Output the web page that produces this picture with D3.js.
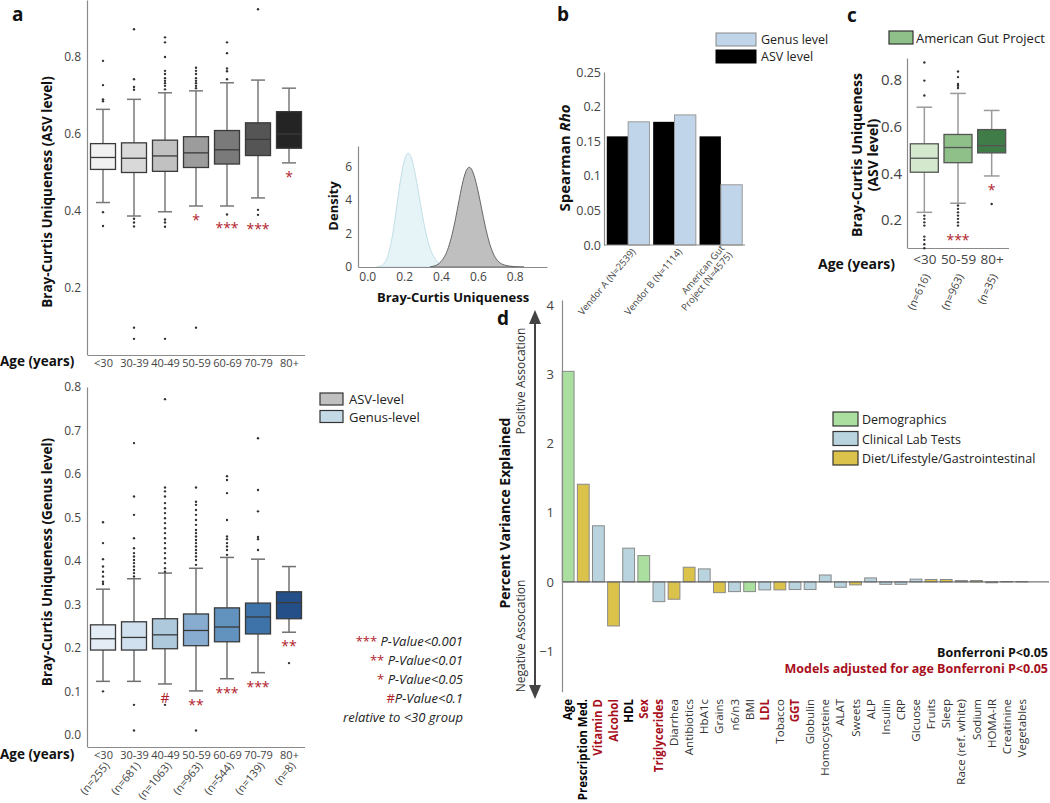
<!DOCTYPE html>
<html>
<head>
<meta charset="utf-8">
<script src="https://cdn.jsdelivr.net/npm/d3@7"></script>
<style>
  body { margin: 0; background: #fff; }
  svg { font-family: "Open Sans", sans-serif; }
</style>
</head>
<body>
<div id="chart"></div>
<script>
// ---- data ----
var ageGroups = ["<30", "30-39", "40-49", "50-59", "60-69", "70-79", "80+"];

// [low whisker, Q1, median, Q3, high whisker]
var asvBox = [
  [0.422, 0.508, 0.539, 0.575, 0.664],
  [0.387, 0.500, 0.537, 0.577, 0.690],
  [0.398, 0.503, 0.543, 0.584, 0.707],
  [0.413, 0.513, 0.551, 0.593, 0.712],
  [0.413, 0.522, 0.559, 0.609, 0.733],
  [0.434, 0.544, 0.586, 0.629, 0.740],
  [0.525, 0.563, 0.600, 0.658, 0.719]
];
var asvOutliers = [
  [0.79, 0.727, 0.69, 0.685, 0.397, 0.361],
  [0.872, 0.742, 0.722, 0.715, 0.38, 0.37, 0.36, 0.097, 0.068],
  [0.851, 0.838, 0.80, 0.764, 0.756, 0.745, 0.738, 0.732, 0.725, 0.716, 0.378, 0.37, 0.359, 0.068],
  [0.772, 0.764, 0.756, 0.745, 0.738, 0.732, 0.725, 0.719, 0.097],
  [0.838, 0.81, 0.77, 0.763, 0.742, 0.391],
  [0.924, 0.403, 0.39],
  []
];
var asvStars = ["", "", "", "*", "***", "***", "*"];

var genusN = ["(n=255)", "(n=681)", "(n=1063)", "(n=963)", "(n=544)", "(n=139)", "(n=8)"];
var genusBox = [
  [0.123, 0.195, 0.221, 0.253, 0.335],
  [0.123, 0.195, 0.224, 0.260, 0.359],
  [0.117, 0.198, 0.230, 0.267, 0.372],
  [0.101, 0.205, 0.240, 0.278, 0.383],
  [0.129, 0.214, 0.248, 0.292, 0.408],
  [0.143, 0.232, 0.271, 0.303, 0.404],
  [0.236, 0.267, 0.304, 0.329, 0.387]
];
var genusOutliers = [
  [0.489, 0.441, 0.404, 0.387, 0.375, 0.364, 0.352, 0.347, 0.10],
  [0.671, 0.548, 0.506, 0.452, 0.429, 0.418, 0.41, 0.402, 0.395, 0.387, 0.379, 0.372, 0.364, 0.069, 0.01],
  [0.772, 0.569, 0.56, 0.548, 0.533, 0.521, 0.51, 0.498, 0.487, 0.475, 0.464, 0.452, 0.441, 0.429, 0.418, 0.406, 0.395, 0.383, 0.375, 0.069],
  [0.569, 0.536, 0.529, 0.517, 0.506, 0.494, 0.483, 0.471, 0.464, 0.456, 0.448, 0.441, 0.433, 0.425, 0.418, 0.41, 0.402, 0.391, 0.01],
  [0.595, 0.586, 0.556, 0.494, 0.456, 0.45, 0.441, 0.433, 0.425, 0.414],
  [0.682, 0.563, 0.514, 0.455, 0.45, 0.425],
  [0.165]
];
var genusStars = ["", "", "#", "**", "***", "***", "**"];

// density curves: [uniqueness, density]
var genusDensity = [[0.05, 0], [0.08, 0.05], [0.10, 0.3], [0.12, 0.9], [0.14, 2.0], [0.16, 3.6], [0.18, 5.2],
  [0.20, 6.4], [0.22, 6.9], [0.24, 6.6], [0.26, 5.6], [0.28, 4.3], [0.30, 3.0], [0.32, 1.9], [0.34, 1.1],
  [0.36, 0.6], [0.38, 0.3], [0.40, 0.15], [0.43, 0.05], [0.46, 0]];
var asvDensity = [[0.34, 0], [0.38, 0.1], [0.40, 0.3], [0.42, 0.6], [0.44, 1.1], [0.46, 1.9], [0.48, 2.9],
  [0.50, 4.1], [0.52, 5.2], [0.54, 5.9], [0.56, 6.0], [0.58, 5.5], [0.60, 4.6], [0.62, 3.5], [0.64, 2.4],
  [0.66, 1.5], [0.68, 0.85], [0.70, 0.45], [0.72, 0.22], [0.75, 0.08], [0.80, 0.01], [0.85, 0]];

// panel b
var cohorts = ["Vendor A (N=2539)", "Vendor B (N=1114)", "American Gut|Project (N=4575)"];
var rhoASV = [0.157, 0.178, 0.157];
var rhoGenus = [0.178, 0.188, 0.087];

// panel c
var agpGroups = ["<30", "50-59", "80+"];
var agpN = ["(n=616)", "(n=963)", "(n=35)"];
var agpBox = [
  [0.233, 0.405, 0.465, 0.527, 0.684],
  [0.272, 0.446, 0.511, 0.567, 0.743],
  [0.389, 0.488, 0.519, 0.588, 0.670]
];
var agpOutliers = [
  [0.876, 0.798, 0.734, 0.219, 0.205, 0.19, 0.176, 0.129, 0.115, 0.096, 0.079],
  [0.837, 0.813, 0.784, 0.776, 0.766, 0.262, 0.248, 0.233, 0.219, 0.205, 0.19, 0.176],
  [0.269]
];
var agpStars = ["", "***", "*"];

// panel d
var factors = ["Age", "Prescription Med.", "Vitamin D", "Alcohol", "HDL", "Sex", "Triglycerides", "Diarrhea",
  "Antibiotics", "HbA1c", "Grains", "n6/n3", "BMI", "LDL", "Tobacco", "GGT", "Globulin", "Homocysteine",
  "ALAT", "Sweets", "ALP", "Insulin", "CRP", "Glcuose", "Fruits", "Sleep", "Race (ref. white)", "Sodium",
  "HOMA-IR", "Creatinine", "Vegetables"];
var pctVariance = [3.04, 1.41, 0.81, -0.636, 0.487, 0.38, -0.285, -0.25, 0.212, 0.188, -0.155, -0.14,
  -0.14, -0.115, -0.115, -0.11, -0.11, 0.10, -0.077, -0.043, 0.058, -0.035, -0.035, 0.04, 0.035, 0.035,
  0.02, 0.02, -0.012, 0.006, 0.004];
var factorType = ["Demographics", "Diet", "Clinical", "Diet", "Clinical", "Demographics", "Clinical", "Diet",
  "Diet", "Clinical", "Diet", "Clinical", "Demographics", "Clinical", "Diet", "Clinical", "Clinical", "Clinical",
  "Clinical", "Diet", "Clinical", "Clinical", "Clinical", "Clinical", "Diet", "Diet", "Demographics", "Diet",
  "Clinical", "Clinical", "Diet"];
// 0 = none, 1 = Bonferroni P<0.05, 2 = age adjusted Bonferroni P<0.05
var factorSig = [1, 1, 2, 2, 1, 2, 2, 0, 0, 0, 0, 0, 0, 2, 0, 2, 0, 0, 0, 0, 0, 0, 0, 0, 0, 0, 0, 0, 0, 0, 0];
var typeNames = ["Demographics", "Clinical", "Diet"];
var typeLabels = ["Demographics", "Clinical Lab Tests", "Diet/Lifestyle/Gastrointestinal"];

// ---- drawing ----
var red = "#b0222a";
var svg = d3.select("#chart").append("svg")
  .attr("width", 1050)
  .attr("height", 803);

function styleAxis(g, size) {
  g.select(".domain").attr("stroke", "#8a8a8a").attr("stroke-width", 1.2);
  g.selectAll("text").attr("fill", "#444").style("font-size", size + "px").attr("font-family", "Open Sans");
}

function panelLabel(t, x, y) {
  svg.append("text").attr("x", x).attr("y", y).text(t)
    .style("font-size", "19px").style("font-weight", "bold").attr("fill", "#111");
}

function drawBoxes(g, x, y, stats, outliers, stars, fills, boxW, edge, whisk) {
  stats.forEach(function(s, i) {
    var cx = x(x.domain()[i]);
    // whiskers
    g.append("line").attr("x1", cx).attr("x2", cx).attr("y1", y(s[0])).attr("y2", y(s[1]))
      .attr("stroke", whisk).attr("stroke-width", 1.5);
    g.append("line").attr("x1", cx).attr("x2", cx).attr("y1", y(s[3])).attr("y2", y(s[4]))
      .attr("stroke", whisk).attr("stroke-width", 1.5);
    [s[0], s[4]].forEach(function(v) {
      g.append("line").attr("x1", cx - boxW * 0.28).attr("x2", cx + boxW * 0.28)
        .attr("y1", y(v)).attr("y2", y(v)).attr("stroke", whisk).attr("stroke-width", 1.5);
    });
    g.append("rect").attr("x", cx - boxW / 2).attr("width", boxW)
      .attr("y", y(s[3])).attr("height", y(s[1]) - y(s[3]))
      .attr("fill", fills[i]).attr("stroke", edge).attr("stroke-width", 1.3);
    g.append("line").attr("x1", cx - boxW / 2).attr("x2", cx + boxW / 2)
      .attr("y1", y(s[2])).attr("y2", y(s[2])).attr("stroke", edge).attr("stroke-width", 1.3);
    g.selectAll(null).data(outliers[i]).enter().append("circle")
      .attr("cx", cx).attr("cy", function(d) { return y(d); })
      .attr("r", 1.2).attr("fill", "#333");
    if (stars[i]) {
      // place below the lower whisker and any outliers hugging it
      var low = y(s[0]);
      outliers[i].filter(function(d) { return d < s[0]; })
        .sort(function(a, b) { return b - a; })
        .forEach(function(d) { if (y(d) - low < 15) low = y(d); });
      g.append("text").attr("x", cx).attr("y", low + 19)
        .attr("text-anchor", "middle").attr("fill", red)
        .style("font-size", "14px").text(stars[i]);
    }
  });
}

// ---------- panel a (top) ----------
panelLabel("a", 12, 21);
var xa = d3.scalePoint().domain(ageGroups).range([87.5, 304.5]).padding(0.5);
var yaTop = d3.scaleLinear().domain([0.026, 0.948]).range([355, 0]);
var gaTop = svg.append("g");
gaTop.append("g").attr("transform", "translate(87,0)")
  .call(d3.axisLeft(yaTop).tickValues([0.2, 0.4, 0.6, 0.8]).tickFormat(d3.format(".1f")).tickSize(0).tickPadding(6))
  .call(styleAxis, 12);
gaTop.append("g").attr("transform", "translate(0,355)")
  .call(d3.axisBottom(xa).tickSize(0).tickPadding(4))
  .call(styleAxis, 11);
drawBoxes(gaTop, xa, yaTop, asvBox, asvOutliers, asvStars,
  ["#f1f1f1", "#d9d9d9", "#c1c1c1", "#9c9c9c", "#7a7a7a", "#555555", "#242424"], 25, "#3a3a3a", "#787878");
svg.append("text").attr("transform", "translate(52,192) rotate(-90)").attr("text-anchor", "middle")
  .style("font-size", "13.5px").style("font-weight", "bold").attr("fill", "#111")
  .text("Bray-Curtis Uniqueness (ASV level)");
svg.append("text").attr("x", 0).attr("y", 366)
  .style("font-size", "13.5px").style("font-weight", "bold").attr("fill", "#111").text("Age (years)");

// ---------- density inset ----------
var xd = d3.scaleLinear().domain([-0.05, 0.975]).range([358, 547]);
var yd = d3.scaleLinear().domain([0, 7.2]).range([267, 146]);
var gd = svg.append("g");
var area = d3.area().curve(d3.curveBasis)
  .x(function(d) { return xd(d[0]); }).y0(yd(0)).y1(function(d) { return yd(d[1]); });
gd.append("path").datum(genusDensity).attr("d", area)
  .attr("fill", "#e6f3f7").attr("stroke", "#c2e0e8").attr("stroke-width", 1);
gd.append("path").datum(asvDensity).attr("d", area)
  .attr("fill", "#bfbfbf").attr("stroke", "#5a5a5a").attr("stroke-width", 0.9);
gd.append("g").attr("transform", "translate(358,0)")
  .call(d3.axisLeft(yd).tickValues([0, 2, 4, 6]).tickSize(0).tickPadding(6))
  .call(styleAxis, 12);
gd.append("g").attr("transform", "translate(0,267)")
  .call(d3.axisBottom(xd).tickValues([0, 0.2, 0.4, 0.6, 0.8]).tickFormat(d3.format(".1f")).tickSize(0).tickPadding(5))
  .call(styleAxis, 12);
svg.append("text").attr("transform", "translate(338,206) rotate(-90)").attr("text-anchor", "middle")
  .style("font-size", "13px").style("font-weight", "bold").attr("fill", "#111").text("Density");
svg.append("text").attr("x", 453).attr("y", 302).attr("text-anchor", "middle")
  .style("font-size", "13px").style("font-weight", "bold").attr("fill", "#111").text("Bray-Curtis Uniqueness");

// ---------- panel a (bottom) ----------
var yaBot = d3.scaleLinear().domain([-0.028, 0.8]).range([747, 387]);
var gaBot = svg.append("g");
gaBot.append("g").attr("transform", "translate(87,0)")
  .call(d3.axisLeft(yaBot).tickValues([0, 0.1, 0.2, 0.3, 0.4, 0.5, 0.6, 0.7, 0.8]).tickFormat(d3.format(".1f")).tickSize(0).tickPadding(6))
  .call(styleAxis, 12);
gaBot.append("g").attr("transform", "translate(0,747)")
  .call(d3.axisBottom(xa).tickSize(0).tickPadding(4))
  .call(styleAxis, 11);
drawBoxes(gaBot, xa, yaBot, genusBox, genusOutliers, genusStars,
  ["#e4edf6", "#d0e0ee", "#afc9dc", "#87accf", "#6292be", "#3e73a9", "#244f88"], 25, "#3a3a3a", "#707070");
gaBot.selectAll(".nlab").data(genusN).enter().append("text")
  .attr("transform", function(d, i) { return "translate(" + (xa(ageGroups[i]) + 7) + ",766) rotate(-50)"; })
  .attr("text-anchor", "end").style("font-size", "11px").attr("fill", "#444").text(function(d) { return d; });
svg.append("text").attr("transform", "translate(52,562) rotate(-90)").attr("text-anchor", "middle")
  .style("font-size", "13.5px").style("font-weight", "bold").attr("fill", "#111")
  .text("Bray-Curtis Uniqueness (Genus level)");
svg.append("text").attr("x", 0).attr("y", 759)
  .style("font-size", "13.5px").style("font-weight", "bold").attr("fill", "#111").text("Age (years)");

// legend a
[["ASV-level", "#c0c0c0"], ["Genus-level", "#c3dae6"]].forEach(function(d, i) {
  svg.append("rect").attr("x", 320).attr("y", 393 + i * 17.5).attr("width", 23).attr("height", 12)
    .attr("fill", d[1]).attr("stroke", "#333").attr("stroke-width", 1.2);
  svg.append("text").attr("x", 349).attr("y", 404 + i * 17.5).style("font-size", "13px")
    .attr("fill", "#222").text(d[0]);
});

// p-value key
var pKey = [["***", " P-Value<0.001"], ["**", " P-Value<0.01"], ["*", " P-Value<0.05"], ["#", "P-Value<0.1 "], ["", "relative to <30 group"]];
pKey.forEach(function(d, i) {
  var t = svg.append("text").attr("x", 463).attr("y", 646 + i * 19).attr("text-anchor", "end")
    .style("font-size", "13px").style("font-style", "italic").attr("fill", "#222");
  t.append("tspan").attr("fill", red).style("font-style", "normal").text(d[0]);
  t.append("tspan").text(d[1]);
});

// ---------- panel b ----------
panelLabel("b", 557, 21);
var xb0 = d3.scaleBand().domain(cohorts).range([604, 745]).paddingInner(0.08).paddingOuter(0.06);
var xb1 = d3.scaleBand().domain(["ASV", "Genus"]).range([0, xb0.bandwidth()]);
var yb = d3.scaleLinear().domain([0, 0.25]).range([245, 72]);
var gb = svg.append("g");
cohorts.forEach(function(c, i) {
  gb.append("rect").attr("x", xb0(c) + xb1("ASV")).attr("width", xb1.bandwidth())
    .attr("y", yb(rhoASV[i])).attr("height", yb(0) - yb(rhoASV[i])).attr("fill", "#000");
  gb.append("rect").attr("x", xb0(c) + xb1("Genus")).attr("width", xb1.bandwidth())
    .attr("y", yb(rhoGenus[i])).attr("height", yb(0) - yb(rhoGenus[i]))
    .attr("fill", "#c1d5ea").attr("stroke", "#999").attr("stroke-width", 1);
});
gb.append("g").attr("transform", "translate(604,0)")
  .call(d3.axisLeft(yb).tickValues([0, 0.05, 0.1, 0.15, 0.2, 0.25])
    .tickFormat(function(d) { return d === 0 ? "0.0" : d3.format("")(d); }).tickSize(0).tickPadding(3))
  .call(styleAxis, 12.5);
gb.append("line").attr("x1", 604).attr("x2", 745).attr("y1", 245).attr("y2", 245).attr("stroke", "#8a8a8a");
cohorts.forEach(function(c, i) {
  var parts = c.split("|");
  var t = gb.append("text")
    .attr("transform", "translate(" + (xb0(c) + xb0.bandwidth() / 2 + 8) + ",252) rotate(-50)")
    .attr("text-anchor", "end").style("font-size", "9.5px").attr("fill", "#444");
  parts.forEach(function(p, j) {
    t.append("tspan").attr("x", 0).attr("dy", j === 0 ? (parts.length > 1 ? "-0.55em" : "0") : "1.1em").text(p);
  });
});
var rhoLabel = svg.append("text").attr("transform", "translate(570,158) rotate(-90)").attr("text-anchor", "middle")
  .style("font-size", "15px").style("font-weight", "bold").attr("fill", "#111");
rhoLabel.append("tspan").text("Spearman ");
rhoLabel.append("tspan").style("font-style", "italic").text("Rho");
[["Genus level", "#c1d5ea", "#888"], ["ASV level", "#000", "#000"]].forEach(function(d, i) {
  svg.append("rect").attr("x", 716).attr("y", 33 + i * 17).attr("width", 40).attr("height", 13)
    .attr("fill", d[1]).attr("stroke", d[2]);
  svg.append("text").attr("x", 761).attr("y", 44 + i * 17).style("font-size", "12.5px")
    .attr("fill", "#222").text(d[0]);
});

// ---------- panel c ----------
panelLabel("c", 847, 22);
var xc = d3.scalePoint().domain(agpGroups).range([907.5, 1008.5]).padding(0.5);
var yc = d3.scaleLinear().domain([0.08, 0.895]).range([248, 58]);
var gc = svg.append("g");
gc.append("g").attr("transform", "translate(907,0)")
  .call(d3.axisLeft(yc).tickValues([0.2, 0.4, 0.6, 0.8]).tickFormat(d3.format(".1f")).tickSize(0).tickPadding(5))
  .call(styleAxis, 15);
gc.append("g").attr("transform", "translate(0,248)")
  .call(d3.axisBottom(xc).tickSize(0).tickPadding(6))
  .call(styleAxis, 13.5);
drawBoxes(gc, xc, yc, agpBox, agpOutliers, agpStars, ["#d3e8cc", "#8fc08a", "#3f7c47"], 28, "#555", "#9a9a9a");
gc.selectAll(".nlab").data(agpN).enter().append("text")
  .attr("transform", function(d, i) { return "translate(" + (xc(agpGroups[i]) + 6) + ",276) rotate(-65)"; })
  .attr("text-anchor", "end").style("font-size", "11px").attr("fill", "#444").text(function(d) { return d; });
var cLab = svg.append("text").attr("transform", "translate(862,155) rotate(-90)").attr("text-anchor", "middle")
  .style("font-size", "14px").style("font-weight", "bold").attr("fill", "#111");
cLab.append("tspan").attr("x", 0).attr("dy", "0").text("Bray-Curtis Uniqueness");
cLab.append("tspan").attr("x", 0).attr("dy", "1.15em").text("(ASV level)");
svg.append("text").attr("x", 818).attr("y", 269)
  .style("font-size", "14px").style("font-weight", "bold").attr("fill", "#111").text("Age (years)");
svg.append("rect").attr("x", 889).attr("y", 31).attr("width", 24).attr("height", 13)
  .attr("fill", "#8fc08a").attr("stroke", "#333").attr("stroke-width", 1.2);
svg.append("text").attr("x", 916).attr("y", 43).style("font-size", "13px").attr("fill", "#222").text("American Gut Project");

// ---------- panel d ----------
panelLabel("d", 497, 325);
var typeColor = d3.scaleOrdinal().domain(typeNames).range(["#abdf9f", "#b9d3df", "#dbc24a"]);
var xdd = d3.scaleBand().domain(factors).range([561.5, 1028.5]).paddingInner(0.22).paddingOuter(0.05);
var ydd = d3.scaleLinear().domain([-1.585, 4.07]).range([691.7, 300]);
var gdd = svg.append("g");
gdd.selectAll(".bar").data(factors).enter().append("rect")
  .attr("x", function(d) { return xdd(d); })
  .attr("width", xdd.bandwidth())
  .attr("y", function(d, i) { return ydd(Math.max(0, pctVariance[i])); })
  .attr("height", function(d, i) { return Math.abs(ydd(pctVariance[i]) - ydd(0)); })
  .attr("fill", function(d, i) { return typeColor(factorType[i]); })
  .attr("stroke", "#8a8a8a").attr("stroke-width", 1);
gdd.append("line").attr("x1", 562).attr("x2", 1049).attr("y1", ydd(0)).attr("y2", ydd(0))
  .attr("stroke", "#555").attr("stroke-width", 1);
gdd.append("g").attr("transform", "translate(562,0)")
  .call(d3.axisLeft(ydd).tickValues([-1, 0, 1, 2, 3, 4]).tickFormat(d3.format("d")).tickSize(0).tickPadding(8))
  .call(styleAxis, 13);
gdd.selectAll(".flab").data(factors).enter().append("text")
  .attr("transform", function(d) { return "translate(" + (xdd(d) + xdd.bandwidth() / 2) + ",699) rotate(-90)"; })
  .attr("dy", "0.35em").attr("text-anchor", "end")
  .style("font-size", "11.5px")
  .style("font-weight", function(d, i) { return factorSig[i] ? "bold" : "normal"; })
  .attr("fill", function(d, i) { return factorSig[i] === 2 ? "#a80f1c" : (factorSig[i] === 1 ? "#000" : "#333"); })
  .text(function(d) { return d; });

// association arrow
svg.append("line").attr("x1", 535).attr("x2", 535).attr("y1", 320).attr("y2", 689)
  .attr("stroke", "#444").attr("stroke-width", 2);
svg.append("path").attr("d", "M535,310L529,324L541,324Z").attr("fill", "#444");
svg.append("path").attr("d", "M535,699L529,685L541,685Z").attr("fill", "#444");
svg.append("text").attr("transform", "translate(525,381) rotate(-90)").attr("text-anchor", "middle")
  .style("font-size", "12px").attr("fill", "#333").text("Positive Assocation");
svg.append("text").attr("transform", "translate(525,636) rotate(-90)").attr("text-anchor", "middle")
  .style("font-size", "12px").attr("fill", "#333").text("Negative Assocation");
svg.append("text").attr("transform", "translate(510,513) rotate(-90)").attr("text-anchor", "middle")
  .style("font-size", "14px").style("font-weight", "bold").attr("fill", "#111").text("Percent Variance Explained");

// legend d
typeNames.forEach(function(t, i) {
  svg.append("rect").attr("x", 833).attr("y", 412 + i * 19.5).attr("width", 25).attr("height", 14)
    .attr("fill", typeColor(t)).attr("stroke", "#333").attr("stroke-width", 1.2);
  svg.append("text").attr("x", 862).attr("y", 424 + i * 19.5).style("font-size", "12.5px")
    .attr("fill", "#222").text(typeLabels[i]);
});
svg.append("text").attr("x", 1048).attr("y", 657).attr("text-anchor", "end")
  .style("font-size", "12.5px").style("font-weight", "bold").attr("fill", "#111").text("Bonferroni P<0.05");
svg.append("text").attr("x", 1048).attr("y", 673).attr("text-anchor", "end")
  .style("font-size", "12.5px").style("font-weight", "bold").attr("fill", "#a80f1c").text("Models adjusted for age Bonferroni P<0.05");
</script>
</body>
</html>
